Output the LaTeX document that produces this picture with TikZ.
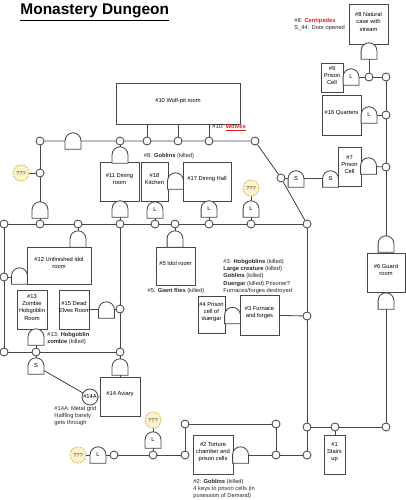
\documentclass[tikz,border=0pt]{standalone}
\usepackage{fontspec}
\setmainfont{Liberation Sans}
\usetikzlibrary{fit,backgrounds}
\definecolor{mapline}{RGB}{70,70,70}
\definecolor{mapred}{RGB}{235,28,28}
\definecolor{unkfill}{RGB}{255,242,204}
\definecolor{unkline}{RGB}{214,182,86}
\newcommand\maptext{\fontsize{4.1}{5}\selectfont}

\makeatletter
\pgfdeclareshape{doorgate}{
  \inheritsavedanchors[from=rectangle]
  \inheritanchorborder[from=rectangle]
  \inheritanchor[from=rectangle]{center}
  \inheritanchor[from=rectangle]{north}
  \inheritanchor[from=rectangle]{south}
  \inheritanchor[from=rectangle]{east}
  \inheritanchor[from=rectangle]{west}
  \backgroundpath{%
    \southwest \edef\dg@xa{\the\pgf@x}\edef\dg@ya{\the\pgf@y}%
    \northeast \edef\dg@xb{\the\pgf@x}\edef\dg@yb{\the\pgf@y}%
    \pgfmathsetlengthmacro\dg@r{((\dg@xb)-(\dg@xa))/2}%
    \pgfmathsetlengthmacro\dg@yc{(\dg@yb)-(\dg@r)}%
    \pgfpathmoveto{\pgfqpoint{\dg@xa}{\dg@ya}}%
    \pgfpathlineto{\pgfqpoint{\dg@xb}{\dg@ya}}%
    \pgfpathlineto{\pgfqpoint{\dg@xb}{\dg@yc}}%
    \pgfpatharc{0}{180}{\dg@r}%
    \pgfpathclose
  }
}
\makeatother

\tikzset{
  room/.style={draw=mapline, fill=white, inner sep=0pt, align=center, font=\maptext},
  door/.style={shape=doorgate, draw=mapline, fill=white, minimum width=0.375cm, minimum height=0.39cm, inner sep=0pt, font=\maptext},
  junc/.style={circle, draw=mapline, fill=white, minimum size=0.2cm, inner sep=0pt},
  unk/.style={circle, draw=unkline, dash pattern=on 1.2pt off 0.8pt, fill=unkfill, minimum size=0.4cm, inner sep=0pt, font=\maptext, text=black!70},
  note/.style={font=\maptext, align=left, inner sep=0pt, text=black!85},
  link/.style={draw=mapline, line width=0.6pt}
}

\begin{document}
\begin{tikzpicture}[x=0.025cm,y=-0.025cm,line width=0.6pt]
\useasboundingbox (0,0) rectangle (406,500);

\node[anchor=base west, inner sep=0pt, font=\fontsize{11}{13}\selectfont\bfseries] (title) at (20,15) {\underline{Monastery Dungeon}};

% rooms
\node[room, fit={(116,83) (240,124)}] (r10) {\#10 Wolf-pit room};
\node[room, fit={(349,4) (388,44)}] (r8) {\#8 Natural\\cave with\\stream};
\node[room, fit={(321,63) (343,92)}] (r9) {\#9\\Prison\\Cell};
\node[room, fit={(322,95) (361,135)}] (r16) {\#16 Quarters};
\node[room, fit={(338,147) (361,186)}] (r7) {\#7\\Prison\\Cell};
\node[room, fit={(100,162) (139,201)}] (r11) {\#11 Dining\\room};
\node[room, fit={(141,162) (168,201)}] (r18) {\#18\\Kitchen};
\node[room, fit={(183,162) (231,201)}] (r17) {\#17 Dining Hall};
\node[room, fit={(27,247) (91,284)}] (r12) {\#12 Unfinished idol\\room};
\node[room, fit={(156,247) (195,285)}] (r5) {\#5 Idol room};
\node[room, fit={(17,290) (47,329)}] (r13) {\#13 Zombie\\Hobgoblin\\Room};
\node[room, fit={(59,290) (89,329)}] (r15) {\#15 Dead\\\mbox{Elves Room}};
\node[room, fit={(198,296) (225,333)}] (r4) {\#4 Prison\\cell of\\duergar};
\node[room, fit={(240,295) (279,335)}] (r3) {\#3 Furnace\\and forges};
\node[room, fit={(367,253) (405,292)}] (r6) {\#6 Guard\\room};
\node[room, fit={(100,377) (140,416)}] (r14) {\#14 Aviary};
\node[room, fit={(193,435) (233,474)}] (r2) {\#2 Torture\\chamber and\\prison cells};
\node[room, fit={(324,435) (345,474)}] (r1) {\#1\\Stairs\\up};

% doors
\node[door] (dA) at (73,141) {};
\node[door] (d11t) at (120,155) {};
\node[door] (d11b) at (120,209) {};
\node[door] (d18b) at (155,210) {L};
\node[door] (d18e) at (175.5,181) {};
\node[door] (d17b) at (209,209) {L};
\node[door] (dq2) at (251,209) {L};
\node[door] (dL2) at (40,210) {};
\node[door] (d12t) at (78,239) {};
\node[door] (d5t) at (175,239) {};
\node[door] (d12w) at (19.5,276) {};
\node[door] (d15e) at (106.5,310) {};
\node[door] (d13b) at (36,337) {};
\node[door] (dS1) at (36,366) {S};
\node[door] (d14t) at (120,367) {};
\node[door] (dq3) at (153,440) {L};
\node[door] (dq4) at (98,455) {L};
\node[door] (d2e) at (240.5,455) {};
\node[door] (d4e) at (232.5,315.5) {};
\node[door] (dS2) at (296,179) {S};
\node[door] (dS3) at (330.5,179) {S};
\node[door] (d7e) at (368.5,166) {};
\node[door] (d8b) at (369,51) {};
\node[door] (d9e) at (351,77) {L};
\node[door] (d16e) at (369,115) {L};
\node[door] (d6t) at (386,244) {};
\node[door] (d6b) at (386,301) {};

% junctions
\foreach \n/\x/\y in {jA/40/141, jB/120/141, jC/147/141, jD/178/141, jE/209/141, jF/255/141,
  jG/281/178, jH/307/224, jq1/40/173, jL1/4/224, jL2/40/224, jL3/78/224, jL4/120/224,
  jL5/155/224, jL6/175/224, jL7/209/224, jL8/251/224, jM1/4/277, jM2/120/309,
  jN1/4/352, jN2/36/352, jN3/120/352, jK/307/316, jP/307/427, jQ/307/455,
  jU/114/455, jT/153/455, jS/185/455, jR/185/424, jV/276/424, jW/276/455,
  jX/335/427, jY/386/427, jZ0/369/77, jZ1/386/77, jZ2/386/115, jZ3/386/167}
  \node[junc] (\n) at (\x,\y) {};

\node[unk] (q1) at (21,173) {???};
\node[unk] (q2) at (251,188) {???};
\node[unk] (q3) at (153,420) {???};
\node[unk] (q4) at (78,455) {???};
\node[circle, draw=mapline, fill=white, minimum size=0.4cm, inner sep=0pt, font=\maptext] (c14a) at (90,397) {\#14A};

% notes
\node[note, anchor=west] (n10) at (212,128) {\#10: \textcolor{mapred}{\textbf{\underline{Wolves}}}};
\node[note, anchor=west] (n8) at (294,24.5) {\#8: \textcolor{mapred}{\textbf{Centipedes}}\\S\_44: Door opened};
\node[note] (n8g) at (169,156) {\#8: \textbf{Goblins} (killed)};
\node[note] (n5) at (176,291) {\#5: \textbf{Giant flies} (killed)};
\node[note, anchor=west] (n3) at (223,276.5) {\#3: \textbf{Hobgoblins} (killed)\\\textbf{Large creature} (killed)\\\textbf{Goblins} (killed)\\\textbf{Duergar} (killed) Prisoner?\\Furnaces/forges destroyed};
\node[note, anchor=west] (n13) at (47,338.5) {\#13: \textbf{Hobgoblin}\\\textbf{zombie} (killed)};
\node[note, anchor=west] (n14a) at (54,416) {\#14A: Metal grid\\Halfling barely\\gets through};
\node[note, anchor=west] (n2) at (193,489) {\#2: \textbf{Goblins} (killed)\\4 keys to prison cells (in\\posession of Demand)};

\begin{scope}[on background layer]
\draw[link] (jA) -- (jB) -- (jC) -- (jD) -- (jE) -- (jF) -- (jG) -- (jH);
\draw[link] (jC) -- (jC |- r10.south);
\draw[link] (jD) -- (jD |- r10.south);
\draw[link] (jE) -- (jE |- r10.south);
\draw[link] (jG) -- (jG -| r7.west);
\draw[link] (d7e -| r7.east) -- (jZ3);
\draw[link] (jZ0) -- (jZ1) -- (jZ2) -- (jZ3) -- (r6);
\draw[link] (r6) -- (jY);
\draw[link] (jZ0) -- (jZ0 |- r8.south);
\draw[link] (jZ0) -- (jZ0 -| r9.east);
\draw[link] (jZ2) -- (jZ2 -| r16.east);
\draw[link] (jB) -- (jB |- r11.north);
\draw[link] (jL4) -- (jL4 |- r11.south);
\draw[link] (jL5) -- (jL5 |- r18.south);
\draw[link] (jL7) -- (jL7 |- r17.south);
\draw[link] (q2) -- (jL8);
\draw[link] (jA) -- (jq1) -- (jL2);
\draw[link] (q1) -- (jq1);
\draw[link] (jL1) -- (jL2) -- (jL3) -- (jL4) -- (jL5) -- (jL6) -- (jL7) -- (jL8) -- (jH);
\draw[link] (jL3) -- (jL3 |- r12.north);
\draw[link] (jL6) -- (jL6 |- r5.north);
\draw[link] (jL1) -- (jM1) -- (jN1) -- (jN2) -- (jN3) -- (jM2) -- (jL4);
\draw[link] (jM1) -- (jM1 -| r12.west);
\draw[link] (jM2) -- (jM2 -| r15.east);
\draw[link] (jN2) -- (jN2 |- r13.south);
\draw[link] (jN2) -- (dS1);
\draw[link] (dS1) -- (c14a);
\draw[link] (jN3) -- (jN3 |- r14.north);
\draw[link] (c14a) -- (r14);
\draw[link] (jH) -- (jK) -- (jP) -- (jQ);
\draw[link] (r3) -- (jK);
\draw[link] (q3) -- (jT);
\draw[link] (q4) -- (jU);
\draw[link] (jU) -- (jT) -- (jS) -- (jR) -- (jV) -- (jW) -- (jQ);
\draw[link] (jW -| r2.east) -- (jW);
\draw[link] (jP) -- (jX) -- (jY);
\draw[link] (jX) -- (jX |- r1.north);
\end{scope}
\end{tikzpicture}
\end{document}
